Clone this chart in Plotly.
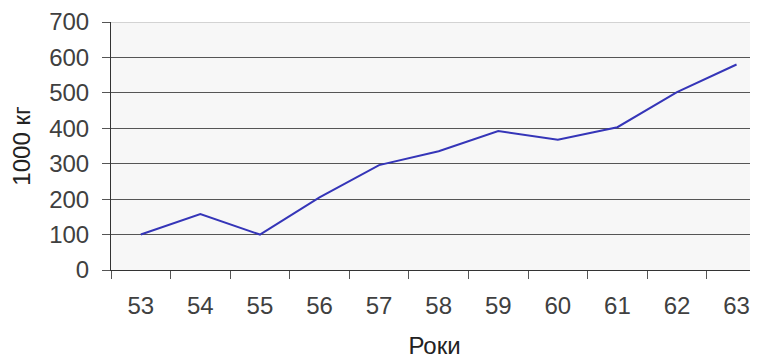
import plotly.graph_objects as go

years = ["53", "54", "55", "56", "57", "58", "59", "60", "61", "62", "63"]
values = [100, 158, 100, 205, 296, 335, 392, 368, 403, 502, 580]
y_ticks = [0, 100, 200, 300, 400, 500, 600, 700]

fig = go.Figure()
fig.add_trace(go.Scatter(
    x=years, y=values, mode="lines",
    line=dict(color="#3535b8", width=2),
    hoverinfo="skip", showlegend=False,
))

font_family = "Liberation Sans, Arial, sans-serif"

# page body has an 8px default margin; figure sized to fit inside 758x360
fig.update_layout(
    width=750, height=352,
    margin=dict(l=103, r=0, t=14, b=90, autoexpand=False),
    plot_bgcolor="#f7f7f7",
    paper_bgcolor="white",
    font=dict(family=font_family, size=24, color="#404040"),
    xaxis=dict(
        type="category",
        range=[-0.5, 10.36],
        automargin=False,
        tickson="boundaries",
        ticks="outside", ticklen=8, tickcolor="#555555", tickwidth=1,
        ticklabelstandoff=14,
        showline=True, linecolor="#333333", linewidth=1,
        showgrid=False,
        tickfont=dict(size=24, color="#404040"),
        title=dict(text="Роки", font=dict(size=24, color="#222222"), standoff=19),
    ),
    yaxis=dict(
        range=[0, 700],
        automargin=False,
        tickvals=y_ticks,
        ticks="outside", ticklen=8, tickcolor="#555555", tickwidth=1,
        ticklabelstandoff=8,
        showline=True, linecolor="#333333", linewidth=1,
        showgrid=True, gridcolor="#555555", gridwidth=1,
        zeroline=False,
        tickfont=dict(size=24, color="#404040"),
        title=dict(text="1000 кг", font=dict(size=24, color="#222222"), standoff=12),
    ),
    shapes=[dict(type="line", xref="paper", yref="y", x0=0, x1=1, y0=700, y1=700,
                 line=dict(color="#b0b0b0", width=1), layer="above")],
)

fig.write_html("out.html")
